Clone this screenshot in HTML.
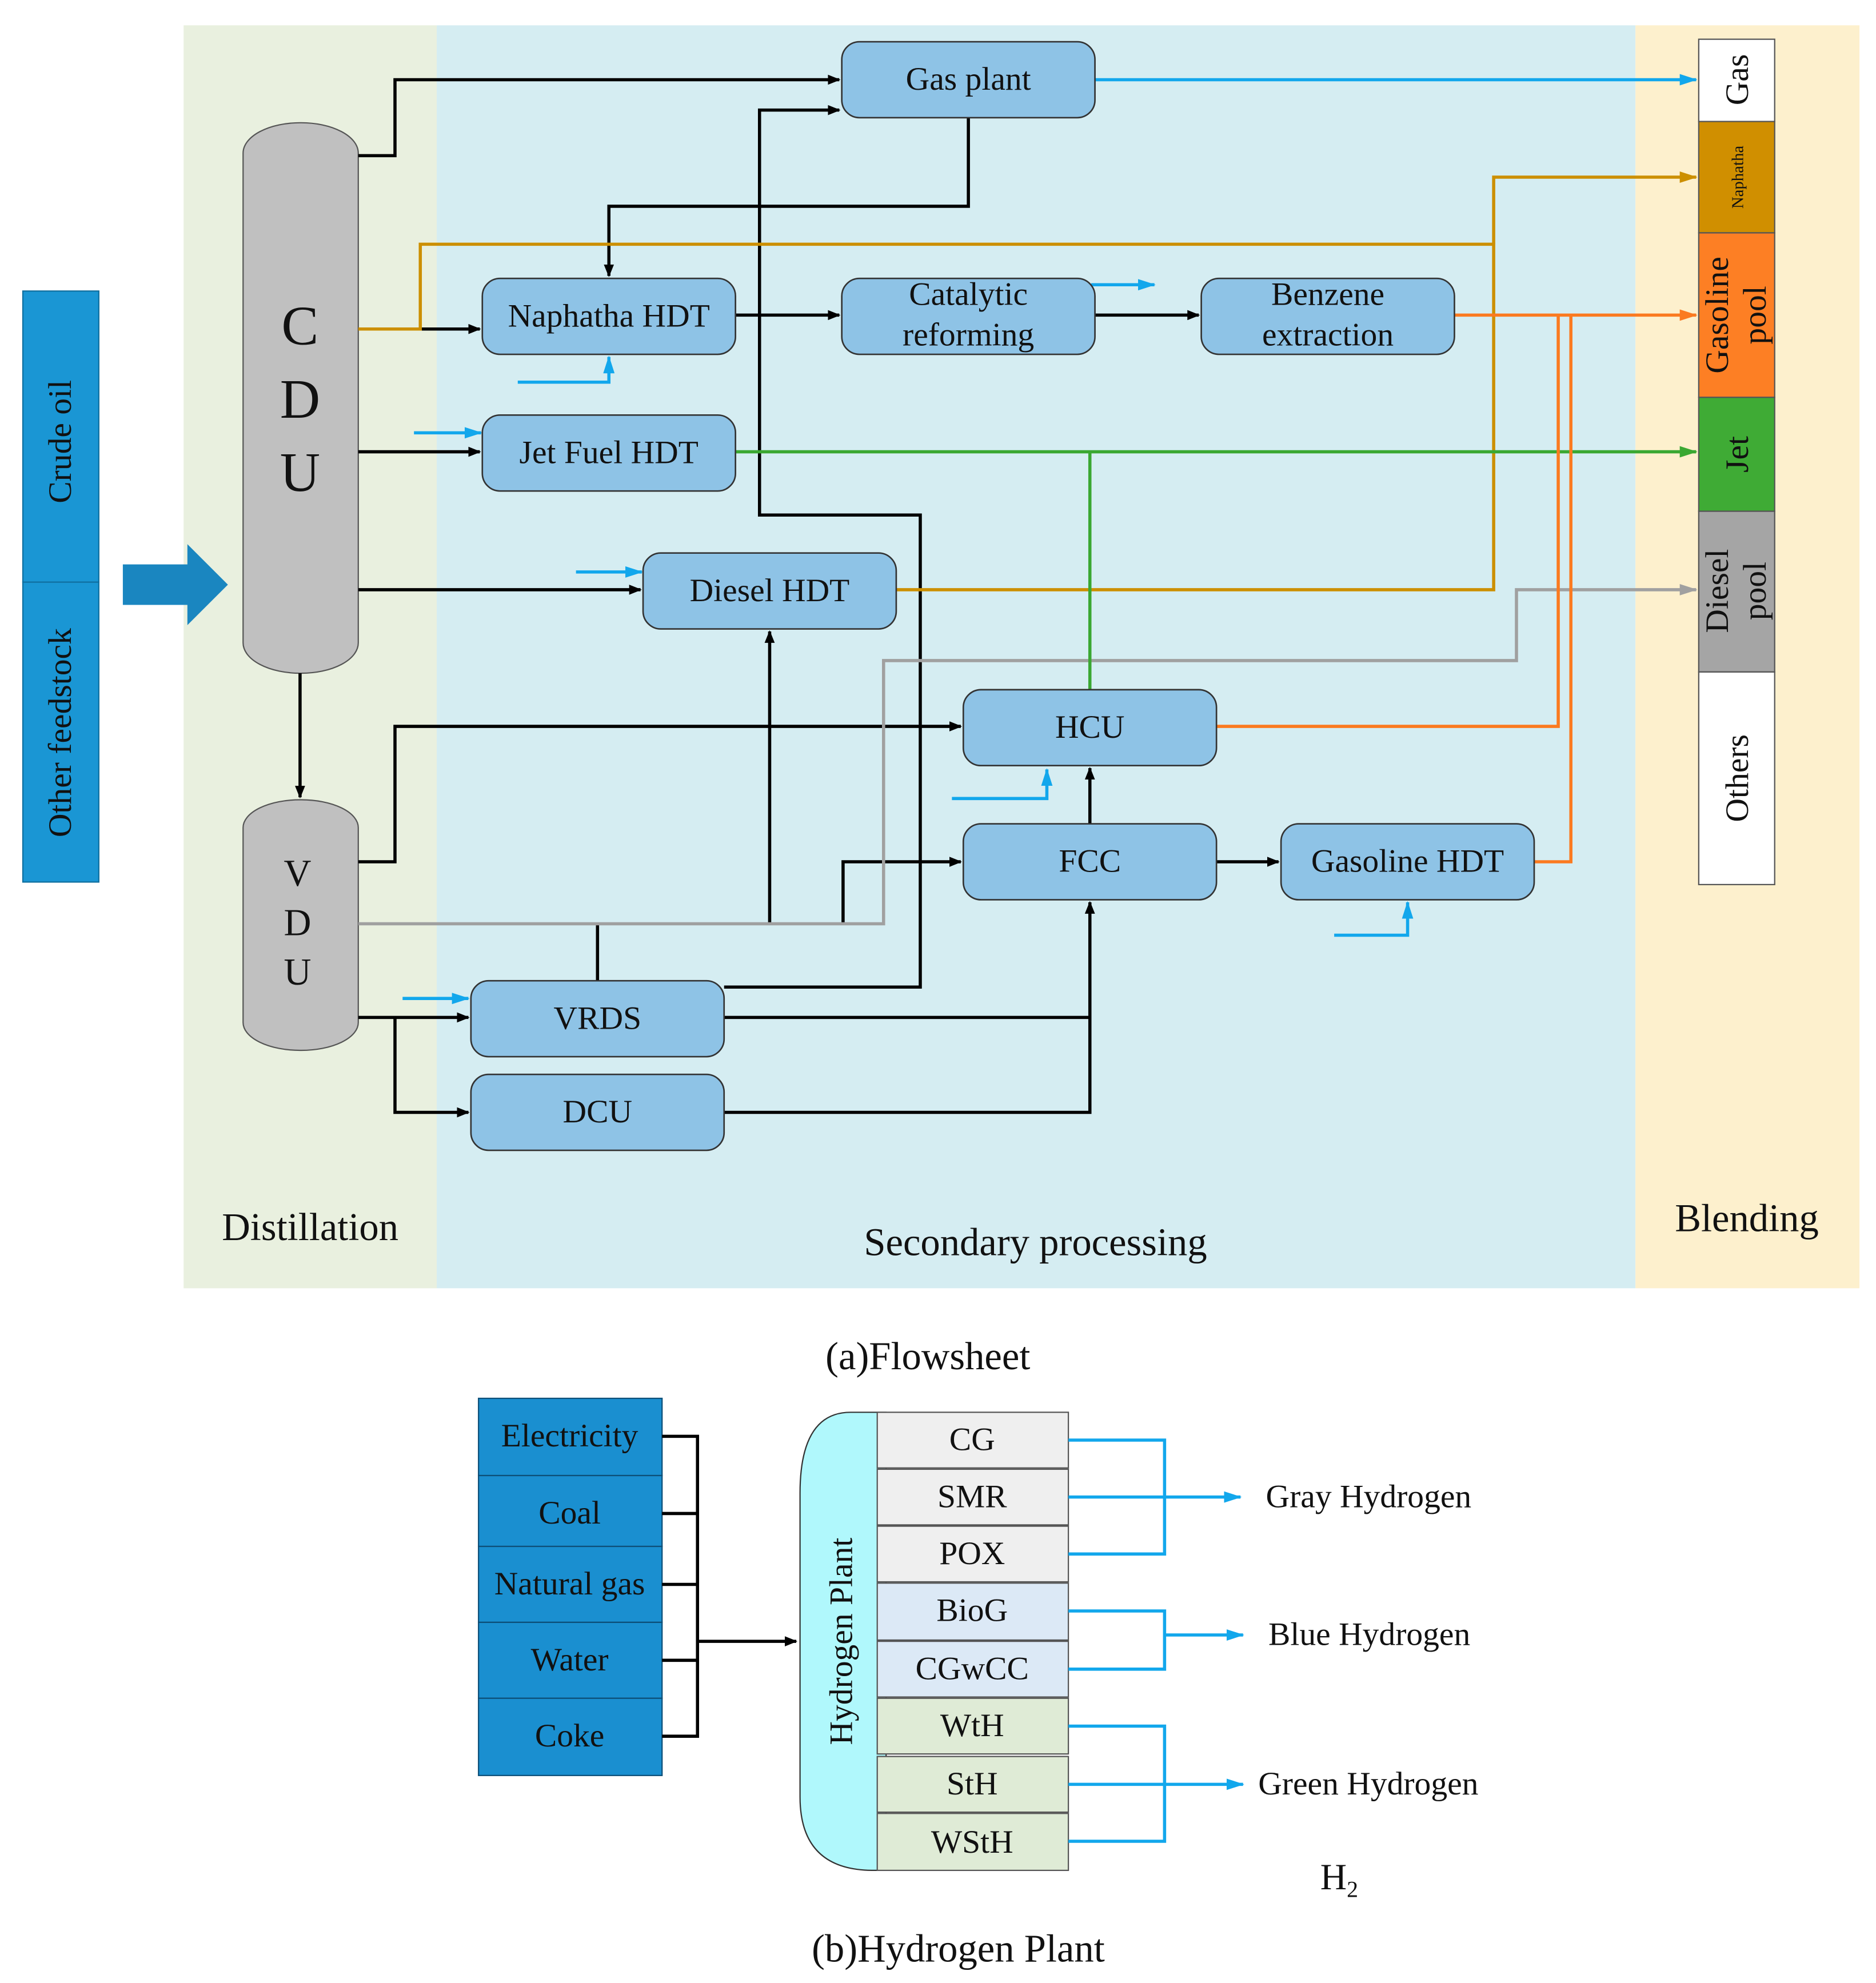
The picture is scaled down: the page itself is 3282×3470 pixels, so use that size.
<!DOCTYPE html>
<html><head><meta charset="utf-8"><style>html,body{margin:0;padding:0;background:#fff}svg{display:block}text{font-family:"Liberation Serif",serif;fill:#111}</style></head><body>
<svg width="3282" height="3470" viewBox="0 0 1482 1567" xmlns="http://www.w3.org/2000/svg">
<defs>
<marker id="ak" markerWidth="10" markerHeight="8" refX="9" refY="4" orient="auto" markerUnits="userSpaceOnUse"><path d="M0,0L10,4L0,8z" fill="#000"/></marker>
<marker id="ab" markerWidth="14" markerHeight="9" refX="13" refY="4.5" orient="auto" markerUnits="userSpaceOnUse"><path d="M0,0L14,4.5L0,9z" fill="#12a7ec"/></marker>
<marker id="ao" markerWidth="14" markerHeight="9" refX="13" refY="4.5" orient="auto" markerUnits="userSpaceOnUse"><path d="M0,0L14,4.5L0,9z" fill="#fb7a20"/></marker>
<marker id="ay" markerWidth="14" markerHeight="9" refX="13" refY="4.5" orient="auto" markerUnits="userSpaceOnUse"><path d="M0,0L14,4.5L0,9z" fill="#cc8f00"/></marker>
<marker id="ag" markerWidth="14" markerHeight="9" refX="13" refY="4.5" orient="auto" markerUnits="userSpaceOnUse"><path d="M0,0L14,4.5L0,9z" fill="#3aa832"/></marker>
<marker id="ar" markerWidth="14" markerHeight="9" refX="13" refY="4.5" orient="auto" markerUnits="userSpaceOnUse"><path d="M0,0L14,4.5L0,9z" fill="#a0a0a0"/></marker>
</defs>
<rect x="145" y="20" width="200" height="998" fill="#e9f0df"/>
<rect x="345" y="20" width="947" height="998" fill="#d5edf2"/>
<rect x="1292" y="20" width="177" height="998" fill="#fdf0cd"/>
<rect x="18" y="230" width="60" height="230" fill="#1a96d4" stroke="#0f6f9f"/>
<rect x="18" y="460" width="60" height="237" fill="#1a96d4" stroke="#0f6f9f"/>
<text transform="translate(56,349) rotate(-90)" text-anchor="middle" font-size="26">Crude oil</text>
<text transform="translate(56,579) rotate(-90)" text-anchor="middle" font-size="26">Other feedstock</text>
<path d="M97,446H148V430L180,462L148,494V478H97z" fill="#1a86c0"/>
<rect x="192" y="97" width="91" height="435" rx="45" ry="24" fill="#c0c0c0" stroke="#555"/>
<text x="237" y="272" text-anchor="middle" font-size="44">C</text>
<text x="237" y="330" text-anchor="middle" font-size="44">D</text>
<text x="237" y="388" text-anchor="middle" font-size="44">U</text>
<rect x="192" y="632" width="91" height="198" rx="45" ry="22" fill="#c0c0c0" stroke="#555"/>
<text x="235" y="700" text-anchor="middle" font-size="30">V</text>
<text x="235" y="739" text-anchor="middle" font-size="30">D</text>
<text x="235" y="778" text-anchor="middle" font-size="30">U</text>
<g fill="none" stroke-width="2.5">
<path d="M283,123H312V63H663" stroke="#000" marker-end="url(#ak)"/>
<path d="M765,93V163H481V218" stroke="#000" marker-end="url(#ak)"/>
<path d="M572,780H727V407H600V87H663" stroke="#000" marker-end="url(#ak)"/>
<path d="M283,260H379" stroke="#000" marker-end="url(#ak)"/>
<path d="M581,249H663" stroke="#000" marker-end="url(#ak)"/>
<path d="M865,249H947" stroke="#000" marker-end="url(#ak)"/>
<path d="M283,357H379" stroke="#000" marker-end="url(#ak)"/>
<path d="M283,466H506" stroke="#000" marker-end="url(#ak)"/>
<path d="M237,532V630" stroke="#000" marker-end="url(#ak)"/>
<path d="M283,681H312V574H759" stroke="#000" marker-end="url(#ak)"/>
<path d="M608,730V499" stroke="#000" marker-end="url(#ak)"/>
<path d="M666,730V681H759" stroke="#000" marker-end="url(#ak)"/>
<path d="M472,775V730" stroke="#000"/>
<path d="M283,804H370" stroke="#000" marker-end="url(#ak)"/>
<path d="M312,804V879H370" stroke="#000" marker-end="url(#ak)"/>
<path d="M572,804H861" stroke="#000"/>
<path d="M572,879H861V713" stroke="#000" marker-end="url(#ak)"/>
<path d="M861,651V607" stroke="#000" marker-end="url(#ak)"/>
<path d="M961,681H1010" stroke="#000" marker-end="url(#ak)"/>
<path d="M283,730H698V522H1198V466H1340" stroke="#a0a0a0" marker-end="url(#ar)"/>
<path d="M283,260H332V193H1180V466H708" stroke="#cc8f00"/>
<path d="M1180,193V140H1340" stroke="#cc8f00" marker-end="url(#ay)"/>
<path d="M581,357H1340" stroke="#3aa832" marker-end="url(#ag)"/>
<path d="M861,545V357" stroke="#3aa832"/>
<path d="M1149,249H1340" stroke="#fb7a20" marker-end="url(#ao)"/>
<path d="M961,574H1231V249" stroke="#fb7a20"/>
<path d="M1212,681H1241V249" stroke="#fb7a20"/>
<path d="M865,63H1340" stroke="#12a7ec" marker-end="url(#ab)"/>
<path d="M409,302H481V282" stroke="#12a7ec" marker-end="url(#ab)"/>
<path d="M327,342H380" stroke="#12a7ec" marker-end="url(#ab)"/>
<path d="M862,225H912" stroke="#12a7ec" marker-end="url(#ab)"/>
<path d="M455,452H507" stroke="#12a7ec" marker-end="url(#ab)"/>
<path d="M752,631H827V608" stroke="#12a7ec" marker-end="url(#ab)"/>
<path d="M318,789H370" stroke="#12a7ec" marker-end="url(#ab)"/>
<path d="M1054,739H1112V713" stroke="#12a7ec" marker-end="url(#ab)"/>
</g>
<g fill="#8ec3e6" stroke="#333" stroke-width="1.2">
<rect x="665" y="33" width="200" height="60" rx="14"/>
<rect x="381" y="220" width="200" height="60" rx="14"/>
<rect x="665" y="220" width="200" height="60" rx="14"/>
<rect x="949" y="220" width="200" height="60" rx="14"/>
<rect x="381" y="328" width="200" height="60" rx="14"/>
<rect x="508" y="437" width="200" height="60" rx="14"/>
<rect x="761" y="545" width="200" height="60" rx="14"/>
<rect x="761" y="651" width="200" height="60" rx="14"/>
<rect x="1012" y="651" width="200" height="60" rx="14"/>
<rect x="372" y="775" width="200" height="60" rx="14"/>
<rect x="372" y="849" width="200" height="60" rx="14"/>
</g>
<g font-size="26" text-anchor="middle">
<text x="765" y="71">Gas plant</text>
<text x="481" y="258">Naphatha HDT</text>
<text x="765" y="241">Catalytic</text><text x="765" y="273">reforming</text>
<text x="1049" y="241">Benzene</text><text x="1049" y="273">extraction</text>
<text x="481" y="366">Jet Fuel HDT</text>
<text x="608" y="475">Diesel HDT</text>
<text x="861" y="583">HCU</text>
<text x="861" y="689">FCC</text>
<text x="1112" y="689">Gasoline HDT</text>
<text x="472" y="813">VRDS</text>
<text x="472" y="887">DCU</text>
</g>
<g stroke="#555">
<rect x="1342" y="31" width="60" height="65" fill="#fff"/>
<rect x="1342" y="96" width="60" height="88" fill="#d08f00"/>
<rect x="1342" y="184" width="60" height="130" fill="#fd7f24"/>
<rect x="1342" y="314" width="60" height="90" fill="#3fab35"/>
<rect x="1342" y="404" width="60" height="127" fill="#a5a5a5"/>
<rect x="1342" y="531" width="60" height="168" fill="#fff"/>
</g>
<text transform="translate(1381,63) rotate(-90)" text-anchor="middle" font-size="26">Gas</text>
<text transform="translate(1377,140) rotate(-90)" text-anchor="middle" font-size="13">Naphatha</text>
<text transform="translate(1365,249) rotate(-90)" text-anchor="middle" font-size="26">Gasoline</text>
<text transform="translate(1395,249) rotate(-90)" text-anchor="middle" font-size="26">pool</text>
<text transform="translate(1381,359) rotate(-90)" text-anchor="middle" font-size="26">Jet</text>
<text transform="translate(1365,467) rotate(-90)" text-anchor="middle" font-size="26">Diesel</text>
<text transform="translate(1395,467) rotate(-90)" text-anchor="middle" font-size="26">pool</text>
<text transform="translate(1381,615) rotate(-90)" text-anchor="middle" font-size="26">Others</text>
<text x="245" y="980" text-anchor="middle" font-size="31">Distillation</text>
<text x="818" y="992" text-anchor="middle" font-size="31">Secondary processing</text>
<text x="1380" y="973" text-anchor="middle" font-size="31">Blending</text>
<text x="733" y="1082" text-anchor="middle" font-size="31">(a)Flowsheet</text>
<g stroke="#0d4f78" fill="#1a8fd0">
<rect x="378" y="1105" width="145" height="61"/>
<rect x="378" y="1166" width="145" height="56"/>
<rect x="378" y="1222" width="145" height="60"/>
<rect x="378" y="1282" width="145" height="60"/>
<rect x="378" y="1342" width="145" height="61"/>
</g>
<g font-size="26" text-anchor="middle">
<text x="450" y="1143">Electricity</text>
<text x="450" y="1204">Coal</text>
<text x="450" y="1260">Natural gas</text>
<text x="450" y="1320">Water</text>
<text x="450" y="1380">Coke</text>
</g>
<g fill="none" stroke="#000" stroke-width="2.5">
<path d="M523,1135H551V1372H523M523,1196H551M523,1252H551M523,1312H551"/>
<path d="M551,1297H629" marker-end="url(#ak)"/>
</g>
<path d="M700,1116H672Q632,1116 632,1180V1420Q632,1478 690,1478H700z" fill="#b0f8fc" stroke="#333"/>
<text transform="translate(673,1297) rotate(-90)" text-anchor="middle" font-size="26">Hydrogen Plant</text>
<g stroke="#555">
<rect x="693" y="1116" width="151" height="44" fill="#efefef"/>
<rect x="693" y="1161" width="151" height="44" fill="#efefef"/>
<rect x="693" y="1206" width="151" height="44" fill="#efefef"/>
<rect x="693" y="1251" width="151" height="45" fill="#dce9f6"/>
<rect x="693" y="1297" width="151" height="44" fill="#dce9f6"/>
<rect x="693" y="1342" width="151" height="44" fill="#dfebd6"/>
<rect x="693" y="1388" width="151" height="44" fill="#dfebd6"/>
<rect x="693" y="1433" width="151" height="45" fill="#dfebd6"/>
</g>
<g font-size="26" text-anchor="middle">
<text x="768" y="1146">CG</text>
<text x="768" y="1191">SMR</text>
<text x="768" y="1236">POX</text>
<text x="768" y="1281">BioG</text>
<text x="768" y="1327">CGwCC</text>
<text x="768" y="1372">WtH</text>
<text x="768" y="1418">StH</text>
<text x="768" y="1464">WStH</text>
</g>
<g fill="none" stroke="#12a7ec" stroke-width="2.5">
<path d="M844,1138H920V1228H844"/>
<path d="M844,1183H980" marker-end="url(#ab)"/>
<path d="M844,1273H920V1319H844"/>
<path d="M920,1292H982" marker-end="url(#ab)"/>
<path d="M844,1364H920V1455H844"/>
<path d="M844,1410H982" marker-end="url(#ab)"/>
</g>
<g font-size="26">
<text x="1000" y="1191">Gray Hydrogen</text>
<text x="1002" y="1300">Blue Hydrogen</text>
<text x="994" y="1418">Green Hydrogen</text>
<text x="1043" y="1493" font-size="29">H<tspan font-size="18" dy="6">2</tspan></text>
</g>
<text x="757" y="1550" text-anchor="middle" font-size="31">(b)Hydrogen Plant</text>
</svg>
</body></html>
